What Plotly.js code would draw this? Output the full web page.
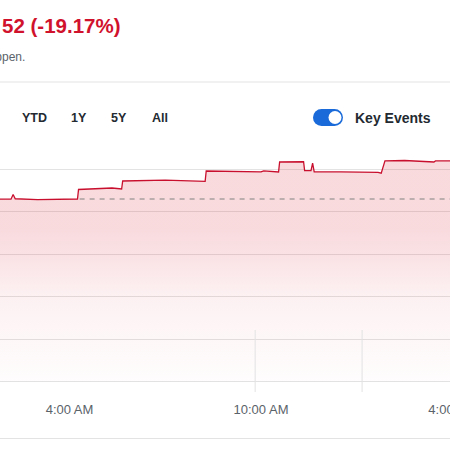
<!DOCTYPE html>
<html>
<head>
<meta charset="utf-8">
<script src="https://cdn.plot.ly/plotly-3.0.1.min.js"></script>
<style>
  html, body { margin: 0; padding: 0; background: #fff; overflow: hidden; width: 450px; height: 450px; }
  #chart { width: 480px; height: 450px; }
</style>
</head>
<body>
<div id="chart"></div>
<script>
// ---- data (price in chart units) ----
const day = '2024-03-15 ';
const times = ['01:45','02:10','02:14','02:18','03:00','04:00','04:15','04:17','05:00','05:20','05:38','05:40',
  '07:00','08:15','08:17','09:30','10:00','10:05','10:15','10:33','10:35','11:20','11:22','11:34','11:37','11:40',
  '12:30','13:40','13:46','13:53','14:30','15:00','15:12','15:25','15:28','16:00'];
const prices = [4.294,4.29,4.40,4.30,4.28,4.285,4.294,4.518,4.54,4.553,4.53,4.718,
  4.74,4.71,4.953,4.94,4.93,4.955,4.94,4.93,5.165,5.17,4.96,4.96,5.14,4.93,
  4.93,4.92,4.90,5.19,5.20,5.19,5.17,5.165,5.19,5.19];
const previousClose = 4.294;
const gridVals = [0, 1, 2, 3, 4, 5];
const tickTimes = ['04:00', '10:00', '16:00'];
const tickLabels = ['4:00 AM', '10:00 AM', '4:00 PM'];
const eventTimes = ['09:49', '13:10'];
const headline = '52 (-19.17%)';
const subline = 'happen.';
const rangeButtons = ['YTD', '1Y', '5Y', 'All'];
const toggleLabel = 'Key Events';

// ---- layout helpers ----
const W = 480, H = 450, T = 150, B = 392;
const px = x => x / W;                     // pixel x -> paper x
const py = y => (B - y) / (B - T);         // pixel y -> paper y
const FONT = 'Liberation Sans, Arial, sans-serif';
const RED = '#d1122d';
const DARK = '#232a31';
const GRAY = '#5b636a';

const trace = {
  x: times.map(t => day + t),
  y: prices,
  type: 'scatter',
  mode: 'lines',
  line: { color: '#c8102e', width: 1.3 },
  fill: 'tozeroy',
  fillgradient: {
    type: 'vertical', start: 0, stop: 5.2,
    colorscale: [
      [0, 'rgba(215,25,45,0.01)'],
      [0.2, 'rgba(215,25,45,0.035)'],
      [0.4, 'rgba(215,25,45,0.065)'],
      [0.58, 'rgba(215,25,45,0.13)'],
      [0.7, 'rgba(215,25,45,0.16)'],
      [1, 'rgba(215,25,45,0.16)']
    ]
  },
  hoverinfo: 'skip'
};

const buttonX = [34, 79, 118.5, 159.5];
const annotations = [
  { text: headline, xref: 'paper', yref: 'paper', x: px(0), y: py(25), xanchor: 'left', yanchor: 'middle',
    showarrow: false, font: { family: FONT, size: 20.5, color: RED, weight: 'bold' } },
  { text: subline, xref: 'paper', yref: 'paper', x: px(26.5), y: py(57), xanchor: 'right', yanchor: 'middle',
    showarrow: false, font: { family: FONT, size: 12, color: GRAY } },
  { text: toggleLabel, xref: 'paper', yref: 'paper', x: px(353), y: py(118), xanchor: 'left', yanchor: 'middle',
    showarrow: false, font: { family: FONT, size: 14, color: DARK, weight: 'bold' } }
];
rangeButtons.forEach((b, i) => annotations.push({
  text: b, xref: 'paper', yref: 'paper', x: px(buttonX[i]), y: py(118), xanchor: 'center', yanchor: 'middle',
  showarrow: false, font: { family: FONT, size: 12.5, color: DARK, weight: 'bold' }
}));

const BLUE = '#1a6bd9';
const shapes = [
  { type: 'line', xref: 'paper', yref: 'paper', x0: 0, x1: 1, y0: py(82), y1: py(82), line: { color: '#e3e3e3', width: 1 } },
  { type: 'line', xref: 'paper', yref: 'paper', x0: 0, x1: 1, y0: py(438.5), y1: py(438.5), line: { color: '#e3e3e3', width: 1 } },
  { type: 'line', xref: 'x', yref: 'y', x0: day + '04:19', x1: day + '17:00', y0: previousClose, y1: previousClose, layer: 'above',
    line: { color: '#808080', width: 1, dash: '5px,5px' } },
  // toggle
  { type: 'circle', xref: 'paper', yref: 'paper', x0: px(313), x1: px(330), y0: py(126), y1: py(109), fillcolor: BLUE, line: { width: 0 } },
  { type: 'circle', xref: 'paper', yref: 'paper', x0: px(326), x1: px(343), y0: py(126), y1: py(109), fillcolor: BLUE, line: { width: 0 } },
  { type: 'rect', xref: 'paper', yref: 'paper', x0: px(321.5), x1: px(334.5), y0: py(126), y1: py(109), fillcolor: BLUE, line: { width: 0 } },
  { type: 'circle', xref: 'paper', yref: 'paper', x0: px(328.5), x1: px(341.5), y0: py(124), y1: py(111), fillcolor: '#ffffff', line: { width: 0 } }
];
eventTimes.forEach(t => shapes.push({
  type: 'line', xref: 'x', yref: 'paper', x0: day + t, x1: day + t, y0: 0, y1: py(330),
  line: { color: '#e2e2e2', width: 1 }
}));

const layout = {
  width: W, height: H,
  margin: { l: 0, r: 0, t: T, b: H - B, pad: 0 },
  paper_bgcolor: '#ffffff', plot_bgcolor: '#ffffff',
  showlegend: false,
  xaxis: {
    type: 'date',
    range: [day + '01:49:21', day + '16:51:40'],
    tickvals: tickTimes.map(t => day + t),
    ticktext: tickLabels,
    showgrid: false, zeroline: false, showline: false, ticks: '',
    ticklabelstandoff: 8,
    tickfont: { family: FONT, size: 13, color: GRAY }
  },
  yaxis: {
    range: [-0.247, 5.447],
    tickvals: gridVals,
    showticklabels: false,
    showgrid: true, gridcolor: '#e3e3e3', gridwidth: 1,
    zeroline: false, showline: false, ticks: ''
  },
  annotations: annotations,
  shapes: shapes
};

Plotly.newPlot('chart', [trace], layout, { displayModeBar: false, staticPlot: true });
</script>
</body>
</html>
